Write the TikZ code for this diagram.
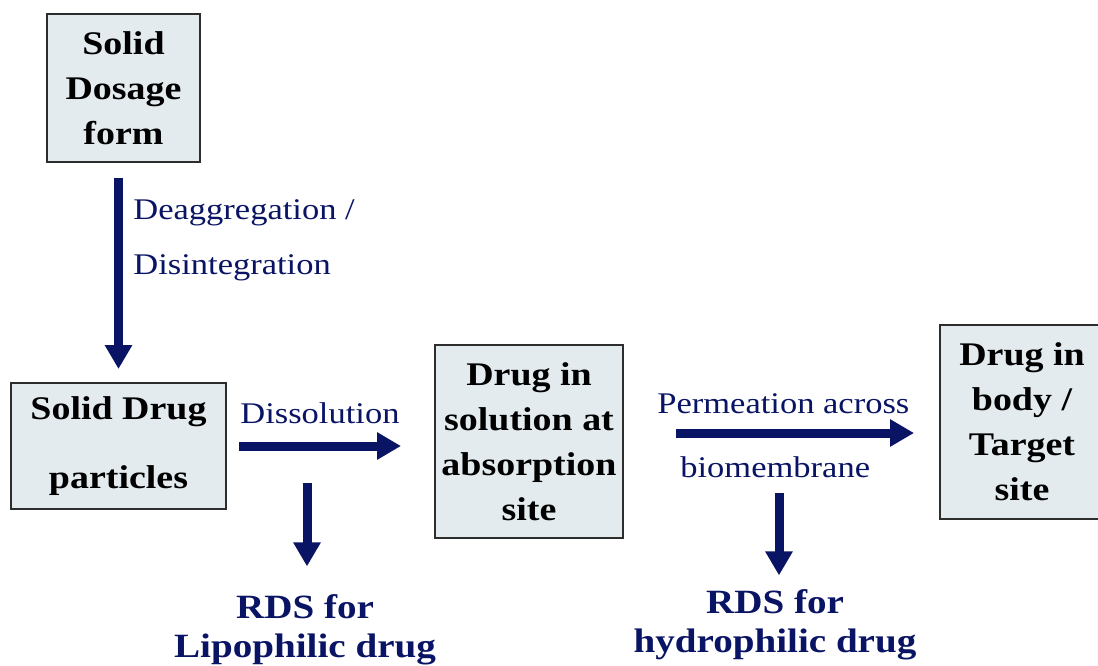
\documentclass[tikz,border=0pt]{standalone}
\usepackage{fontspec}
\setmainfont{Liberation Serif}[FakeStretch=1.15]
\usetikzlibrary{arrows.meta}
\definecolor{azul}{RGB}{10,20,100}
\definecolor{fundo}{RGB}{227,235,238}
\definecolor{borda}{RGB}{45,45,45}
\begin{document}
\begin{tikzpicture}[
  x=0.5pt, y=-0.5pt,
  caixa/.style={draw=borda, line width=1pt, fill=fundo, align=center, inner sep=0pt, font=\fontsize{16.5}{22.5}\selectfont\bfseries},
  seta/.style={draw=azul, line width=4.5pt, -{Triangle[length=12pt, width=13pt]}},
  rot/.style={text=azul, inner sep=0pt, font=\fontsize{15}{27.5}\selectfont},
  rds/.style={text=azul, align=center, inner sep=0pt, font=\fontsize{17}{19.5}\selectfont\bfseries}
]
\fill[white] (0,0) rectangle (1098,665);
\useasboundingbox (0,0) rectangle (1098,665);
% caixas
\node[caixa, minimum width=76.5pt, minimum height=74pt] (forma) at (123.5,88) {Solid\\Dosage\\form};
\node[caixa, minimum width=107.5pt, minimum height=63pt] (particulas) at (118.5,446) {Solid Drug\\[12pt]particles};
\node[caixa, minimum width=94pt, minimum height=96.5pt] (solucao) at (529,441.5) {Drug in\\solution at\\absorption\\site};
\node[caixa, minimum width=82pt, minimum height=97pt] (corpo) at (1022,422) {Drug in\\body /\\Target\\site};
% etapas
\draw[seta, shorten <=7.5pt, shorten >=6.5pt] (particulas.north |- forma.south) -- (particulas.north);
\node[rot, align=left, anchor=west] (desag) at (133,240) {Deaggregation /\\Disintegration};
\draw[seta, shorten <=6pt, shorten >=16.5pt] (particulas.east) -- (particulas.east -| solucao.west);
\node[rot, anchor=base west] (dissol) at (240,423) {Dissolution};
\draw[seta, shorten <=26pt, shorten >=12.5pt] ([yshift=4.25pt]solucao.east) -- ([yshift=4.25pt]solucao.east -| corpo.west);
\node[rot, anchor=base west] (perm) at (657,413) {Permeation across};
\node[rot, anchor=base west] (biomem) at (680,477) {biomembrane};
% etapas limitantes
\node[rds] (lipo) at (305,630) {RDS for\\Lipophilic drug};
\node[rds] (hidro) at (775,625) {RDS for\\hydrophilic drug};
\coordinate (d1) at (307,483);
\coordinate (d2) at (779,493);
\draw[seta, shorten >=14pt] (d1) -- (d1 |- lipo.north);
\draw[seta, shorten >=7pt] (d2) -- (d2 |- hidro.north);
\end{tikzpicture}
\end{document}
